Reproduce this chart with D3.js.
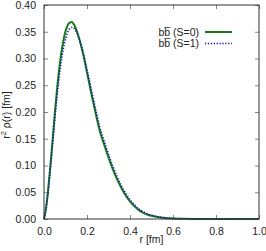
<!DOCTYPE html>
<html>
<head>
<meta charset="utf-8">
<script src="https://cdn.jsdelivr.net/npm/d3@7"></script>
<style>
html,body{margin:0;padding:0;background:#fff;}
svg{display:block;}
text{font-family:"Liberation Sans",Arial,sans-serif;fill:#222;}
</style>
</head>
<body>
<svg id="c" width="266" height="251"></svg>
<script>
const rValues = [0,0.01,0.02,0.03,0.04,0.05,0.06,0.07,0.08,0.09,0.10,0.11,0.12,0.13,0.14,0.16,0.18,0.20,0.22,0.24,0.26,0.28,0.30,0.32,0.34,0.36,0.38,0.40,0.42,0.44,0.46,0.48,0.50,0.55,0.60,0.65,0.70,0.80,0.90,1.00];
const s0Values = [0,0.022,0.058,0.101,0.148,0.196,0.240,0.278,0.309,0.333,0.351,0.362,0.367,0.368,0.363,0.342,0.312,0.274,0.235,0.198,0.164,0.139,0.115,0.093,0.074,0.058,0.044,0.033,0.024,0.017,0.012,0.0085,0.006,0.0025,0.001,0.0004,0.0001,0,0,0];
const s1Values = [0,0.020,0.054,0.095,0.140,0.185,0.227,0.264,0.294,0.318,0.336,0.349,0.356,0.358,0.356,0.341,0.314,0.279,0.242,0.205,0.171,0.145,0.121,0.099,0.079,0.062,0.048,0.036,0.027,0.019,0.014,0.0098,0.007,0.003,0.0012,0.0005,0.0002,0,0,0];
const xTicks = [0,0.2,0.4,0.6,0.8,1.0];
const yTicks = [0,0.05,0.10,0.15,0.20,0.25,0.30,0.35,0.40];
const seriesNames = ["bb\u0305 (S=0)", "bb\u0305 (S=1)"];

const svg = d3.select("#c");
const L=44, R=259, T=5, B=219;
const x = d3.scaleLinear().domain([0,1]).range([L,R]);
const y = d3.scaleLinear().domain([0,0.4]).range([B,T]);

const tickColor="#666";
const xb = svg.append("g").attr("transform",`translate(0,${B})`)
  .call(d3.axisBottom(x).tickValues(xTicks).tickSizeInner(-4).tickSizeOuter(0).tickPadding(9).tickFormat(d3.format(".1f")));
const xt = svg.append("g").attr("transform",`translate(0,${T})`)
  .call(d3.axisTop(x).tickValues(xTicks).tickSizeInner(-4).tickSizeOuter(0).tickFormat(""));
const yl = svg.append("g").attr("transform",`translate(${L},0)`)
  .call(d3.axisLeft(y).tickValues(yTicks).tickSizeInner(-4).tickSizeOuter(0).tickPadding(8).tickFormat(d3.format(".2f")));
const yr = svg.append("g").attr("transform",`translate(${R},0)`)
  .call(d3.axisRight(y).tickValues(yTicks).tickSizeInner(-4).tickSizeOuter(0).tickFormat(""));
[xb,xt,yl,yr].forEach(g=>{
  g.select(".domain").remove();
  g.selectAll(".tick line").attr("stroke",tickColor).attr("stroke-width",0.8);
  g.selectAll(".tick text").attr("font-size","10.5px").attr("fill","#222").style("font-family","'Liberation Sans',Arial,sans-serif");
});

const data0 = rValues.map((r,i)=>[r,s0Values[i]]);
const data1 = rValues.map((r,i)=>[r,s1Values[i]]);
const line = d3.line().x(d=>x(d[0])).y(d=>y(d[1])).curve(d3.curveMonotoneX);

svg.append("path").datum(data0).attr("d",line).attr("fill","none")
  .attr("stroke","#177a17").attr("stroke-width",2);
svg.append("path").datum(data1).attr("d",line).attr("fill","none")
  .attr("stroke","#1a1ab4").attr("stroke-width",1.6).attr("stroke-dasharray","1.3,1.6");

svg.append("rect").attr("x",L).attr("y",T).attr("width",R-L).attr("height",B-T)
  .attr("fill","none").attr("stroke","#333").attr("stroke-width",1);

const leg = [{name:seriesNames[0],y:32,color:"#177a17",w:2,dash:null},
             {name:seriesNames[1],y:43.5,color:"#1a1ab4",w:1.6,dash:"1.3,1.6"}];
leg.forEach(d=>{
  svg.append("text").attr("x",199).attr("y",d.y+3.8).attr("text-anchor","end")
    .attr("font-size","10.5px").text(d.name);
  svg.append("line").attr("x1",205).attr("x2",232).attr("y1",d.y).attr("y2",d.y)
    .attr("stroke",d.color).attr("stroke-width",d.w).attr("stroke-dasharray",d.dash);
});

svg.append("text").attr("x",(L+R)/2).attr("y",243).attr("text-anchor","middle")
  .attr("font-size","10.5px").text("r [fm]");
const yLab = svg.append("text").attr("transform","translate(10,115) rotate(-90)")
  .attr("text-anchor","middle").attr("font-size","10.5px");
yLab.append("tspan").text("r");
yLab.append("tspan").attr("dy",-4).attr("font-size","7.5px").text("2");
yLab.append("tspan").attr("dy",4).text(" \u03c1(r) [fm]");
</script>
</body>
</html>
